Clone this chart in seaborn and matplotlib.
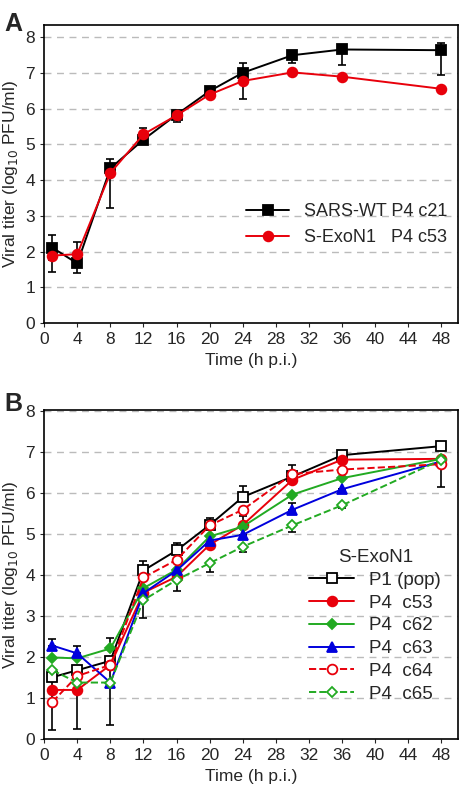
import matplotlib
matplotlib.use("Agg")
import matplotlib.pyplot as plt
import seaborn as sns
import numpy as np

sns.set_style("white")
plt.rcParams['font.family'] = ['Liberation Sans', 'DejaVu Sans']

# Panel A
tA = [1, 4, 8, 12, 16, 20, 24, 30, 36, 48]
wt = [2.11, 1.67, 4.33, 5.13, 5.83, 6.49, 7.0, 7.49, 7.65, 7.63]
wt_lo = [0.35, 0.27, 0.0, 0.0, 0.2, 0.0, 0.0, 0.23, 0.44, 0.7]
wt_hi = [0.36, 0.6, 0.27, 0.0, 0.0, 0.0, 0.26, 0.0, 0.0, 0.21]
exo = [1.89, 1.93, 4.2, 5.28, 5.81, 6.39, 6.77, 7.01, 6.89, 6.55]
exo_lo = [0.45, 0.0, 0.99, 0.0, 0.0, 0.0, 0.49, 0.0, 0.0, 0.0]
exo_hi = [0.0, 0.0, 0.0, 0.18, 0.0, 0.0, 0.0, 0.0, 0.0, 0.0]

# Panel B
tB = [1, 4, 8, 12, 16, 20, 24, 30, 36, 48]
p1 = [1.51, 1.68, 1.91, 4.11, 4.6, 5.22, 5.9, 6.4, 6.92, 7.14]
p1_lo = [1.29, 1.43, 1.57, 0, 0, 0, 0, 0, 0, 0]
p1_hi = [0, 0, 0, 0.22, 0.19, 0.17, 0.28, 0.29, 0, 0]
c53 = [1.2, 1.2, 1.81, 3.57, 3.96, 4.74, 5.22, 6.32, 6.81, 6.83]
c53_lo = [0]*10
c53_hi = [0, 0, 0, 0, 0, 0, 0.21, 0, 0, 0]
c62 = [1.99, 1.97, 2.21, 3.68, 4.13, 4.94, 5.18, 5.96, 6.36, 6.83]
c62_lo = [0]*10
c62_hi = [0, 0, 0.25, 0, 0, 0, 0, 0, 0, 0]
c63 = [2.28, 2.09, 1.38, 3.56, 4.11, 4.84, 4.98, 5.59, 6.09, 6.77]
c63_lo = [0]*10
c63_hi = [0.15, 0.19, 0, 0, 0, 0, 0, 0.16, 0, 0]
c64 = [0.91, 1.54, 1.81, 3.94, 4.37, 5.21, 5.59, 6.46, 6.57, 6.7]
c64_lo = [0, 0, 0, 0, 0, 0, 0, 0, 0, 0.56]
c64_hi = [0]*10
c65 = [1.68, 1.38, 1.38, 3.39, 3.88, 4.29, 4.69, 5.21, 5.7, 6.81]
c65_lo = [0, 0, 0, 0.44, 0.28, 0.21, 0.12, 0.15, 0.07, 0]
c65_hi = [0]*10

RED = '#e8000b'
GREEN = '#22aa22'
BLUE = '#0000dd'

fig = plt.figure(figsize=(4.65, 8), dpi=100)
axA = fig.add_axes([0.095, 0.596, 0.89, 0.373])
axB = fig.add_axes([0.095, 0.076, 0.89, 0.4115])

def draw(ax, t, y, lo, hi, color, marker, label, ls='-', mfc=None, ms=7):
    sns.lineplot(x=t, y=y, ax=ax, color=color, marker=marker, linestyle=ls,
                 label=label, markersize=ms, markerfacecolor=mfc if mfc else color,
                 markeredgecolor=color, markeredgewidth=1.3, linewidth=1.4, zorder=3)
    ax.errorbar(t, y, yerr=[lo, hi], fmt='none', ecolor='black', elinewidth=1.2,
                capsize=3, capthick=1.2, zorder=2)

draw(axA, tA, wt, wt_lo, wt_hi, 'black', 's', 'SARS-WT P4 c21', ms=7.5)
draw(axA, tA, exo, exo_lo, exo_hi, RED, 'o', 'S-ExoN1   P4 c53')

draw(axB, tB, p1, p1_lo, p1_hi, 'black', 's', 'P1 (pop)', mfc='white')
draw(axB, tB, c53, c53_lo, c53_hi, RED, 'o', 'P4  c53')
draw(axB, tB, c62, c62_lo, c62_hi, GREEN, 'D', 'P4  c62', ms=5)
draw(axB, tB, c63, c63_lo, c63_hi, BLUE, '^', 'P4  c63')
draw(axB, tB, c64, c64_lo, c64_hi, RED, 'o', 'P4  c64', ls='--', mfc='white')
draw(axB, tB, c65, c65_lo, c65_hi, GREEN, 'D', 'P4  c65', ls='--', mfc='white', ms=5)

for ax, ytop in ((axA, 8.34), (axB, 8.02)):
    ax.set_xlim(0, 50)
    ax.set_ylim(0, ytop)
    ax.set_xticks(range(0, 49, 4))
    ax.set_yticks(range(0, 9))
    ax.tick_params(direction='out', length=3, labelsize=12.5, left=True, bottom=True)
    for y in range(1, 9):
        ax.axhline(y, color='#bbbbbb', ls=(0, (5, 4)), lw=1, zorder=0)
    for s in ax.spines.values():
        s.set_color('black'); s.set_linewidth(1.2)
    ax.set_xlabel('Time (h p.i.)', fontsize=12.5)
    ax.set_ylabel('Viral titer (log$_{10}$ PFU/ml)', fontsize=12.5)

axA.legend(loc='center right', bbox_to_anchor=(1.0, 0.33), frameon=False, fontsize=13,
           handlelength=2.4, labelspacing=0.5, borderaxespad=0.2)
axB.legend(loc='lower right', bbox_to_anchor=(1.0, 0.06), frameon=False, fontsize=13.5,
           title='S-ExoN1', title_fontsize=13.5, handlelength=2.4, labelspacing=0.3)

fig.text(0.01, 0.985, 'A', fontsize=18, fontweight='bold', va='top')
fig.text(0.01, 0.51, 'B', fontsize=18, fontweight='bold', va='top')

fig.savefig('out.png', dpi=100)
